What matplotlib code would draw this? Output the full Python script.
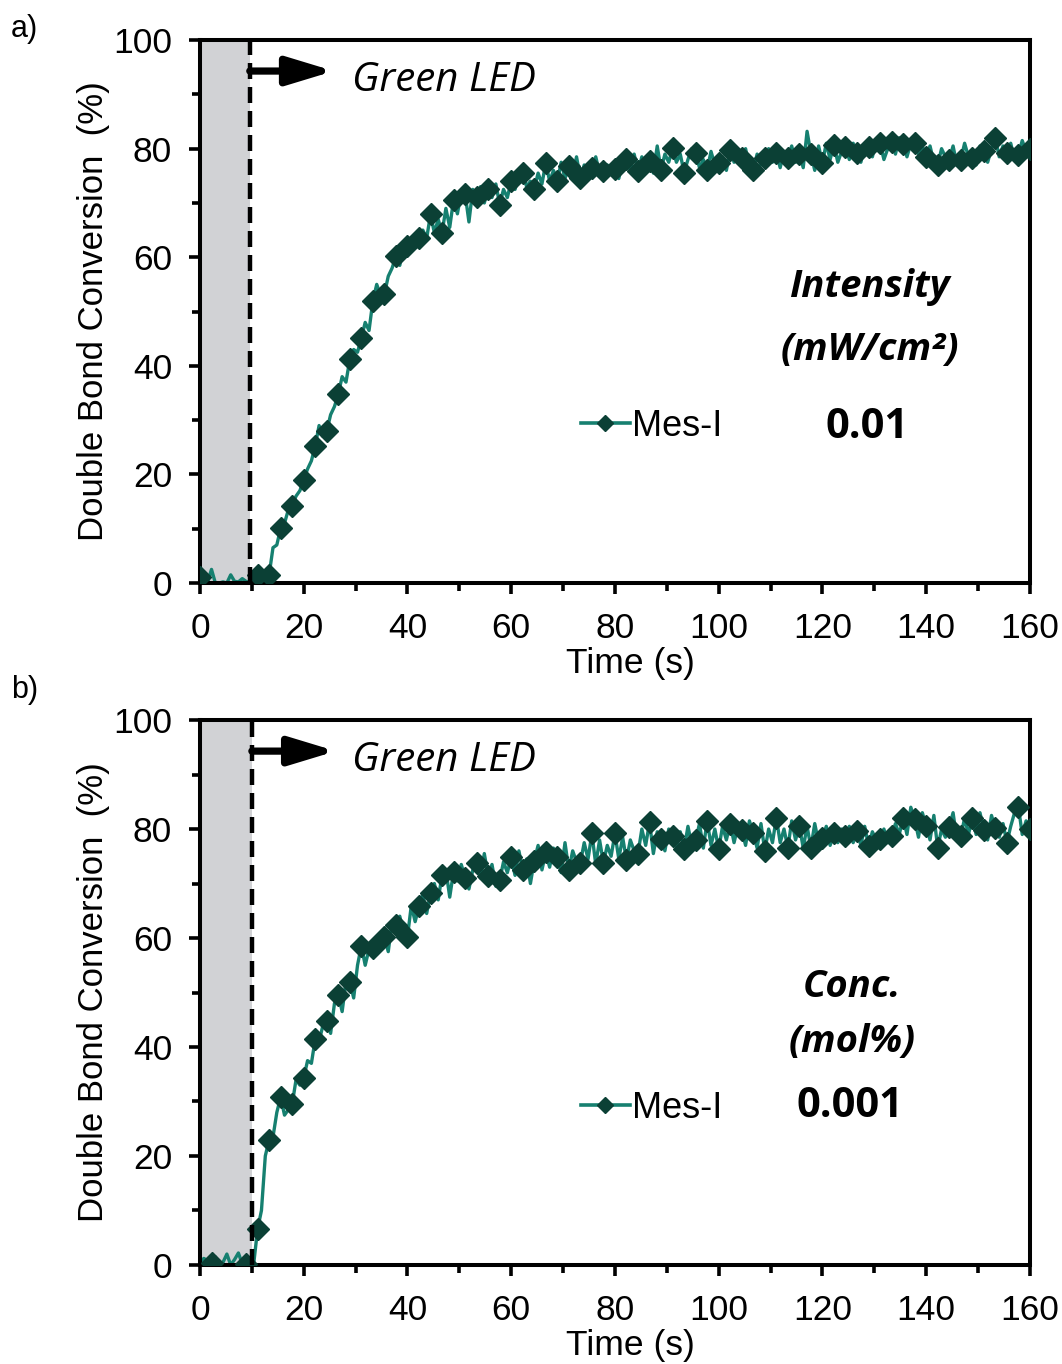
import numpy as np
import matplotlib
matplotlib.use("Agg")
import matplotlib.pyplot as plt

plt.rcParams["font.family"] = ["Liberation Sans", "DejaVu Sans"]

# ---------------------------------------------------------------------------
# Data
# ---------------------------------------------------------------------------

DT = 20 / 27          # line sampling step (s); a marker every 3rd sample
MARKER_STEP = 3
LED_ON_A = 9.6        # s, end of dark period
LED_ON_B = 10.0

# a) intensity 0.01 mW/cm2
conv_a = [
    1.1, 0.3, 0.2, 2.5, 0, 0, 0.2, 0, 1.5, 0.3, 0.2, 0.8, 0.3, 0, 0.5,
    1.5, 1.0, 2.0, 1.5, 6.5, 7.0, 10.1, 11, 13.5, 14.2, 16, 17, 19, 21, 22.5,
    25.3, 29, 27, 28, 31, 32.5, 34.8, 38, 37, 41.2, 43, 42.5, 45.1, 48, 46.5,
    52, 55, 53, 53.2, 56.5, 58, 60.2, 58.5, 62, 62, 63.5, 62.5, 63.5, 65, 63.5,
    67.9, 64.5, 67, 64.5, 69, 65.5,
    70.6, 68, 72, 71.7, 66.5, 72.5, 71.1, 73, 70, 72.6, 71, 73.5,
    69.7, 72.5, 71, 74, 72.5, 75, 75.6, 73, 74, 72.6, 75.5, 73.5,
    77.4, 74, 76, 74, 77.5, 74.5, 76.9, 75, 78.5, 74.6, 77, 75,
    76.4, 78.5, 75.5, 75.8, 77, 76.5, 76.3, 74.5, 77.5, 78.1, 76, 79,
    75.8, 78.5, 76.5, 77.8, 75.5, 80.5, 76.1, 79, 77.5, 80.1, 77.5, 79,
    75.6, 78, 80, 79.2, 76.5, 78, 76.1, 79.5, 77, 77.4, 78.5, 76,
    79.7, 77.5, 79, 78.3, 80, 76.5, 76.1, 79, 77, 78.3, 80, 77.5,
    79.2, 76.5, 79.5, 78.3, 80.5, 77.5, 79.1, 76.5, 83.2, 79.1, 76, 80.5,
    77.4, 81, 78, 80.7, 77.5, 79.5, 80.4, 78, 81, 79.2, 77.5, 80.5,
    80.4, 78.5, 81.5, 81, 78, 80, 81.3, 79, 82, 80.9, 78.5, 81,
    81, 79, 80.5, 78.5, 80.5, 77.5, 77, 80, 78.5, 78, 80.5, 77,
    78, 81, 78.5, 78.3, 77, 80.5, 79.5, 77.5, 80, 82, 78.5, 80.5,
    79.2, 81, 78, 78.9, 81.5, 79.5, 80,
]
hidden_a = [3, 6, 9, 12]   # marker slots not visible in the dark period

# b) concentration 0.001 mol%
conv_b = [
    0.5, 1.2, 0.8, 0.3, 1.5, 0, 0.5, 2.0, 0, 1.0, 2.2, 0.2, 0.2, 0, 0.3,
    6.6, 10, 20, 23, 23.5, 28, 30.8, 27.5, 28.5, 29.5, 34, 33, 34.3, 37.5, 37,
    41.5, 41, 44, 44.7, 42.5, 48, 49.6, 46.5, 52, 52, 49, 55, 58.6, 55, 58,
    58.2, 57, 60, 60.2, 57.5, 63, 62.3, 64, 61, 60.2, 66, 63, 65.8, 68, 64.5,
    68.3, 70, 67, 71.6, 72.5, 67.5,
    72.2, 70.5, 73.5, 71.1, 69, 72.5, 73.7, 71, 75.5, 71.4, 73.5, 69.5,
    70.6, 74, 72, 74.8, 71.5, 76, 72.5, 74.5, 70, 74.2, 77, 72.5,
    75.7, 73, 76.5, 74.8, 72, 77.5, 72.5, 76, 74, 73.8, 77.5, 74.5,
    79.2, 73.5, 78, 73.8, 77, 75, 79.2, 74.5, 78.5, 74.3, 78, 76,
    75.5, 80, 77, 81.3, 75.5, 79.5, 78.1, 76, 80, 78.7, 76.5, 79.5,
    76.3, 80.5, 77, 77.9, 81, 76.5, 81.5, 77, 80, 76.3, 80.5, 78,
    81, 77.5, 80.5, 79.8, 77, 81.5, 79.2, 76.5, 81, 76, 80, 77.5,
    82.1, 77.5, 80, 76.5, 81.5, 78, 80.6, 76.5, 80.5, 76.6, 81, 77.5,
    78.3, 80.5, 77, 79.2, 77.5, 80, 78.7, 80.5, 77.5, 79.7, 77, 80.5,
    76.9, 79.5, 78, 78.1, 80, 77.5, 78.7, 81, 79, 82.1, 79, 84,
    81.8, 78.5, 83, 80.6, 78, 82.5, 76.5, 80, 78.5, 80.4, 83, 78,
    78.7, 82, 79, 82, 79, 83, 79.9, 78, 82.5, 80.1, 78.5, 81,
    77.5, 80.5, 83, 84.1, 79, 81.5, 80,
]
hidden_b = [0, 6, 9]

panels = [
    dict(tag="a)", conv=conv_a, hidden=hidden_a, led=LED_ON_A,
         head="Intensity", unit="(mW/cm²)", value="0.01",
         head_xy=(0.807, 0.545), unit_xy=(0.807, 0.43), value_xy=(0.804, 0.287)),
    dict(tag="b)", conv=conv_b, hidden=hidden_b, led=LED_ON_B,
         head="Conc.", unit="(mol%)", value="0.001",
         head_xy=(0.786, 0.51), unit_xy=(0.786, 0.41), value_xy=(0.783, 0.290)),
]

LINE_COLOR = "#168070"
MARK_COLOR = "#0b4035"
SHADE = "#d1d2d5"

# ---------------------------------------------------------------------------
# Plot
# ---------------------------------------------------------------------------

fig = plt.figure(figsize=(10.62, 13.64), dpi=100)
boxes = [[0.1883, 0.5726, 0.7815, 0.398], [0.1883, 0.0726, 0.7815, 0.3995]]
tag_y = [0.979, 0.494]

for p, box, ty in zip(panels, boxes, tag_y):
    ax = fig.add_axes(box)
    y = np.array(p["conv"])
    t = np.arange(len(y)) * DT

    idx = np.arange(0, len(y), MARKER_STEP)
    idx = idx[~np.isin(idx, p["hidden"])]

    ax.axvspan(0, p["led"], color=SHADE, lw=0, zorder=0)
    ax.plot(t, y, color=LINE_COLOR, lw=2.4, zorder=2)
    ax.plot(t[idx], y[idx], ls="none", marker="D", ms=11,
            color=MARK_COLOR, mec=MARK_COLOR, zorder=3)
    ax.axvline(p["led"], color="black", lw=3.2, ls=(0, (3.6, 1.8)), zorder=4)

    ax.annotate("", xy=(p["led"] + 16.2, 94.3), xytext=(p["led"], 94.3),
                arrowprops=dict(arrowstyle="-|>,head_length=2.8,head_width=0.85",
                                color="black", lw=5.2, shrinkA=0, shrinkB=0))
    ax.text(0.183, 0.925, "Green LED", transform=ax.transAxes,
            fontsize=29, style="italic", family="Open Sans", va="center")

    ax.text(*p["head_xy"], p["head"], transform=ax.transAxes, ha="center",
            va="center", fontsize=27.5, style="italic", weight="bold",
            family="Open Sans")
    ax.text(*p["unit_xy"], p["unit"], transform=ax.transAxes, ha="center",
            va="center", fontsize=27.5, style="italic", weight="bold",
            family="Open Sans")
    ax.text(*p["value_xy"], p["value"], transform=ax.transAxes, ha="center",
            va="center", fontsize=30, weight="bold", family="Open Sans")

    # legend handle
    ax.plot([], [], color=LINE_COLOR, lw=2.6, marker="D", ms=8,
            mfc=MARK_COLOR, mec=MARK_COLOR, label="Mes-I")
    ax.legend(loc="center", bbox_to_anchor=(0.544, 0.288), frameon=False,
              fontsize=26, handlelength=1.35, handletextpad=0.05,
              borderpad=0, borderaxespad=0)

    ax.set_xlim(0, 160)
    ax.set_ylim(0, 100)
    ax.set_xticks(np.arange(0, 161, 20))
    ax.set_xticks(np.arange(10, 160, 20), minor=True)
    ax.set_yticks(np.arange(0, 101, 20))
    ax.set_yticks(np.arange(10, 100, 20), minor=True)
    ax.tick_params(axis="x", which="major", length=8, width=2.6,
                   labelsize=25.5, direction="out", pad=13)
    ax.tick_params(axis="y", which="major", length=8, width=2.6,
                   labelsize=25.5, direction="out", pad=12)
    ax.tick_params(which="minor", length=6, width=2.6, direction="out")
    for s in ax.spines.values():
        s.set_linewidth(2.9)
    ax.set_xlabel("Time (s)", fontsize=25.5, labelpad=1, x=0.519)
    ax.set_ylabel("Double Bond Conversion  (%)", fontsize=25, labelpad=2)

    fig.text(0.01, ty, p["tag"], fontsize=22, va="center")

fig.savefig("out.png", dpi=100)
